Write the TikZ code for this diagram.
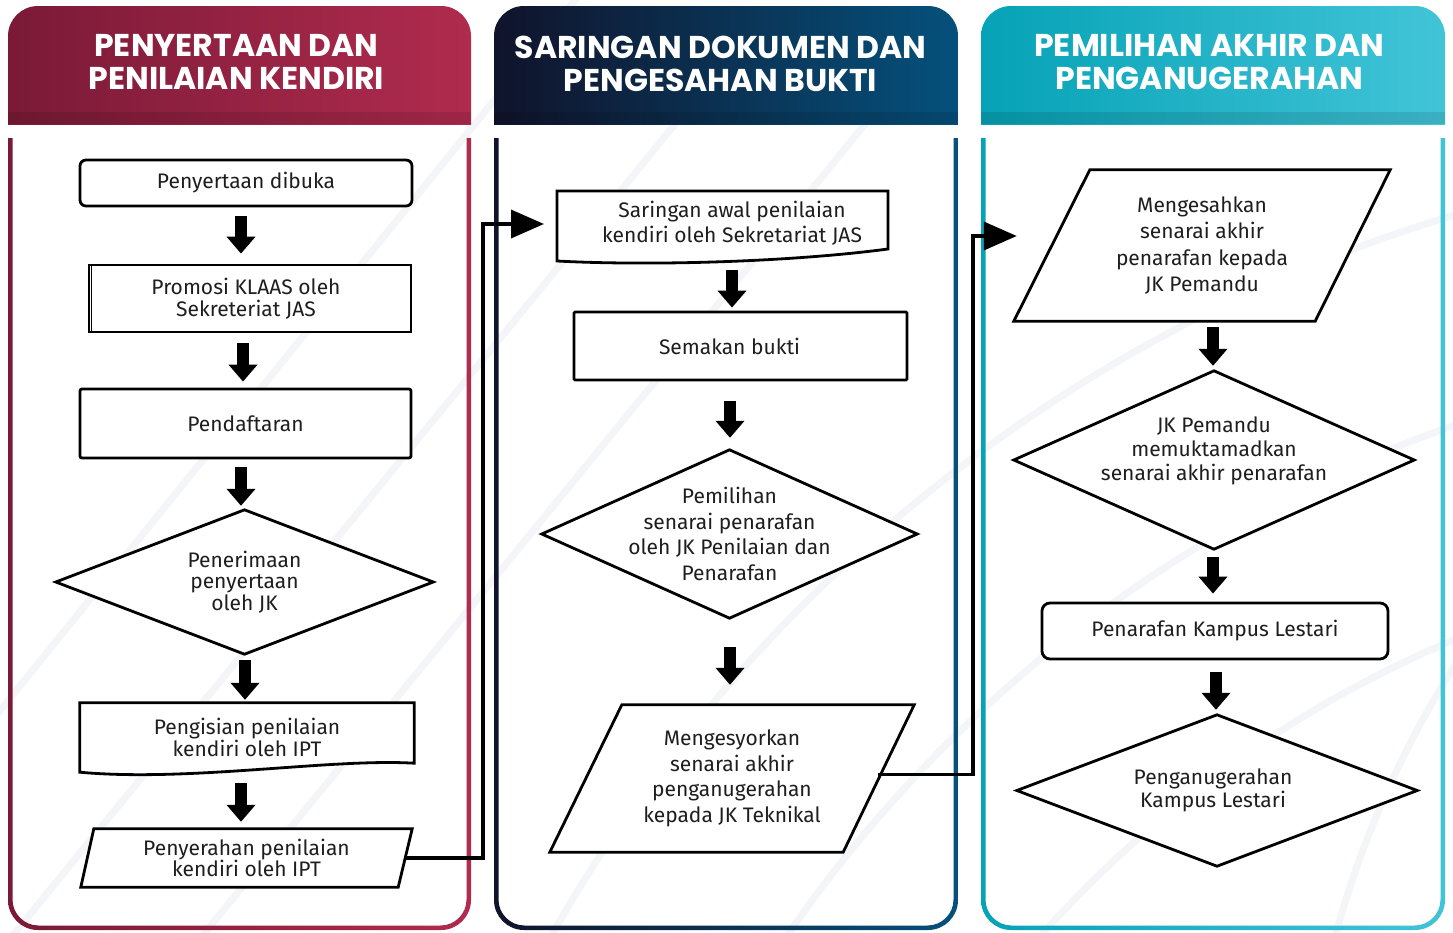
\documentclass[tikz,border=0pt]{standalone}
\usepackage{fontspec}
\setmainfont{Fira Sans}
\newfontfamily\hdrfont{Poppins}
\usetikzlibrary{calc,arrows.meta}
\pgfdeclarelayer{back}
\pgfdeclarelayer{shapes}
\pgfsetlayers{back,shapes,main}
\definecolor{p1a}{HTML}{7A1A37}
\definecolor{p1b}{HTML}{B02B4E}
\definecolor{p2a}{HTML}{10132B}
\definecolor{p2b}{HTML}{05517C}
\definecolor{p3a}{HTML}{06A2B6}
\definecolor{p3b}{HTML}{42C4D8}
\definecolor{tx}{HTML}{1E1E1E}
\definecolor{bgl}{HTML}{F4F5F8}
\begin{document}
\begin{tikzpicture}[x=1pt,y=-1pt,
 txt/.style={align=center, text=tx, inner sep=0pt, font=\fontsize{21}{21.5}\selectfont},
 txtb/.style={txt, font=\fontsize{21}{25.5}\selectfont},
 box/.style={draw=black, fill=white, line width=2.8pt},
 shp/.style={draw=black, fill=white, line width=2.8pt, line join=miter},
 barrow/.style={draw=black, line width=12pt, -{Triangle[width=28pt,length=17pt]}},
 conn/.style={draw=black, line width=3.5pt, line join=miter, -{Triangle[width=28pt,length=33pt]}},
 hdr/.style={text=white, align=center, inner sep=0pt, font=\hdrfont\bfseries\fontsize{31.5}{32.5}\selectfont},
 bgarc/.style={draw=bgl, line width=7pt}]
\useasboundingbox (0,0) rectangle (1453,932);

\begin{pgfonlayer}{back}
\fill[white] (0,0) rectangle (1453,932);
\begin{scope}
\clip (0,0) rectangle (1453,932);
\draw[bgarc] (1900,1700) circle (1150pt);
\draw[bgarc] (1900,1700) circle (1350pt);
\draw[bgarc] (1900,1700) circle (1550pt);
\draw[bgarc] (2300,1200) circle (1000pt);
\draw[bgarc] (-40,760) -- (640,-80);
\draw[bgarc] (-40,1000) -- (760,20);
\draw[bgarc] (150,1000) -- (950,20);
\end{scope}
\foreach \xa/\xb/\ca/\cb in {8/471/p1a/p1b,494/958/p2a/p2b,981/1445/p3a/p3b}{
 \begin{scope}
 \clip (0,0) rectangle (1453,124);
 \shade[left color=\ca, right color=\cb, rounded corners=30pt] (\xa,6) rectangle (\xb,200);
 \end{scope}
 \fill[black, opacity=0.1] (\xa,112) rectangle (\xb,124);
 \begin{scope}
 \clip (0,138) rectangle (1453,932);
 \shade[left color=\ca, right color=\cb, even odd rule, rounded corners=30pt] (\xa,60) rectangle (\xb,930) [rounded corners=26pt] (\xa+4.5,60) rectangle (\xb-4.5,925.5);
 \end{scope}
}
\end{pgfonlayer}

% headers
\node[hdr] (h1) at (236.5,62) {PENYERTAAN DAN\\PENILAIAN KENDIRI};
\node[hdr] (h2) at (720.5,64) {SARINGAN DOKUMEN DAN\\PENGESAHAN BUKTI};
\node[hdr] (h3) at (1209.5,62) {PEMILIHAN AKHIR DAN\\PENGANUGERAHAN};

% panel 1
\node[box, txt, rounded corners=6pt, minimum width=332pt, minimum height=46pt] (n1) at (246,183) {Penyertaan dibuka};
\node[box, txt, minimum width=322pt, minimum height=67pt] (n2) at (250,298.5) {\hspace*{-8pt}Promosi KLAAS oleh\\\hspace*{-8pt}Sekreteriat JAS};
\draw[line width=1.2pt] ($(n2.north west)+(3.5,0)$) -- ($(n2.south west)+(3.5,0)$);
\node[box, txt, rounded corners=2pt, minimum width=331pt, minimum height=69pt] (n3) at (245.5,423.5) {Pendaftaran};
\node[txt, minimum width=377pt, minimum height=144pt] (n4) at (244.5,582) {Penerimaan\\penyertaan\\oleh JK};
\node[txt, minimum width=334pt, minimum height=69pt] (n5) at (247,737.5) {Pengisian penilaian\\kendiri oleh IPT};
\node[txt, minimum width=331pt, minimum height=58pt] (n6) at (246.5,858) {Penyerahan penilaian\\kendiri oleh IPT};

% panel 2
\node[txtb, minimum width=331pt, minimum height=60pt] (m1) at (732,223) {Saringan awal penilaian\\kendiri oleh Sekretariat JAS};
\node[box, txtb, rounded corners=1pt, minimum width=333pt, minimum height=68pt] (m2) at (740.5,346) {\hspace*{-22pt}Semakan bukti};
\node[txtb, minimum width=375pt, minimum height=168pt] (m3) at (729.5,534) {Pemilihan\\senarai penarafan\\oleh JK Penilaian dan\\Penarafan};
\node[txtb, minimum width=364pt, minimum height=147pt] (m4) at (732,778.5) {Mengesyorkan\\senarai akhir\\penganugerahan\\kepada JK Teknikal};

% panel 3
\node[txtb, font=\fontsize{21}{26.3}\selectfont, minimum width=376pt, minimum height=151pt] (k1) at (1202,245.5) {Mengesahkan\\senarai akhir\\penarafan kepada\\JK Pemandu};
\node[minimum width=400pt, minimum height=178pt, inner sep=0pt] (k2) at (1214,460) {};
\node[txtb, font=\fontsize{21}{24}\selectfont] (k2t) at ($(k2)+(0,-9)$) {JK Pemandu\\memuktamadkan\\senarai akhir penarafan};
\node[box, txtb, rounded corners=8pt, minimum width=346pt, minimum height=56pt] (k3) at (1215,631) {Penarafan Kampus Lestari};
\node[txtb, font=\fontsize{21}{23}\selectfont, minimum width=400pt, minimum height=151pt] (k4) at (1217,790.5) {\hspace*{-8pt}Penganugerahan\\\hspace*{-8pt}Kampus Lestari};

\begin{pgfonlayer}{shapes}
\draw[shp] (n4.north) -- (n4.east) -- (n4.south) -- (n4.west) -- cycle;
\draw[shp] (n5.north west) -- (n5.north east) -- ($(n5.south east)+(0,-9)$) .. controls ($(n5.south east)+(-84,-14)$) and ($(n5.south west)+(110,10)$) .. (n5.south west) -- cycle;
\draw[shp] ($(n6.north west)+(13,0)$) -- (n6.north east) -- ($(n6.south east)+(-14,0)$) -- (n6.south west) -- cycle;
\draw[shp] ($(m1)+(-175,-32)$) -- ($(m1)+(156,-32)$) -- ($(m1)+(156,26)$) .. controls ($(m1)+(58,39)$) and ($(m1)+(-82,43)$) .. ($(m1)+(-175,38)$) -- cycle;
\draw[shp] (m3.north) -- (m3.east) -- (m3.south) -- (m3.west) -- cycle;
\draw[shp] ($(m4.north west)+(72,0)$) -- (m4.north east) -- ($(m4.south east)+(-71,0)$) -- (m4.south west) -- cycle;
\draw[shp] ($(k1.north west)+(76,0)$) -- (k1.north east) -- ($(k1.south east)+(-75,0)$) -- (k1.south west) -- cycle;
\draw[shp] (k2.north) -- (k2.east) -- (k2.south) -- (k2.west) -- cycle;
\draw[shp] (k4.north) -- (k4.east) -- (k4.south) -- (k4.west) -- cycle;
\end{pgfonlayer}

% block arrows
\draw[barrow] ($(n1.south)+(-5,9)$) -- ($(n2.north)+(-9,-10)$);
\draw[barrow] ($(n2.south)+(-7,10)$) -- ($(n3.north)+(-2.5,-6)$);
\draw[barrow] ($(n3.south)+(-4.5,8)$) -- ($(n4.north)+(-3.5,-4)$);
\draw[barrow] ($(n4.south)+(0.5,6)$) -- ($(n5.north)+(-2,-3)$);
\draw[barrow] ($(n5.south)+(-6,11)$) -- ($(n6.north)+(-5.5,-7)$);
\draw[barrow] ($(m1.south)+(0,17)$) -- ($(m2.north)+(-8.5,-3)$);
\draw[barrow] ($(m2.south)+(-10.5,20)$) -- ($(m3.north)+(0.5,-12)$);
\draw[barrow] ($(m3.south)+(0.5,29)$) -- ($(m4.north)+(-2,-20)$);
\draw[barrow] ($(k1.south)+(11,6)$) -- ($(k2.north)+(-1,-5)$);
\draw[barrow] ($(k2.south)+(-1,8)$) -- ($(k3.north)+(-2,-8)$);
\draw[barrow] ($(k3.south)+(1,12)$) -- ($(k4.north)+(-1,-5)$);

% connectors between panels
\coordinate (j1) at (483,0);
\coordinate (j2) at (973,0);
\coordinate (e1) at ($(m1)+(-188,1)$);
\coordinate (s1) at ($(n6.east)+(-7,0)$);
\coordinate (s2) at ($(m4.east)+(-36,-4)$);
\coordinate (e2) at ($(k1.west)+(3,-9.5)$);
\draw[conn] (s1) -- (s1 -| j1) -- (e1 -| j1) -- (e1);
\draw[conn] (s2) -- (s2 -| j2) -- (e2 -| j2) -- (e2);
\end{tikzpicture}
\end{document}
